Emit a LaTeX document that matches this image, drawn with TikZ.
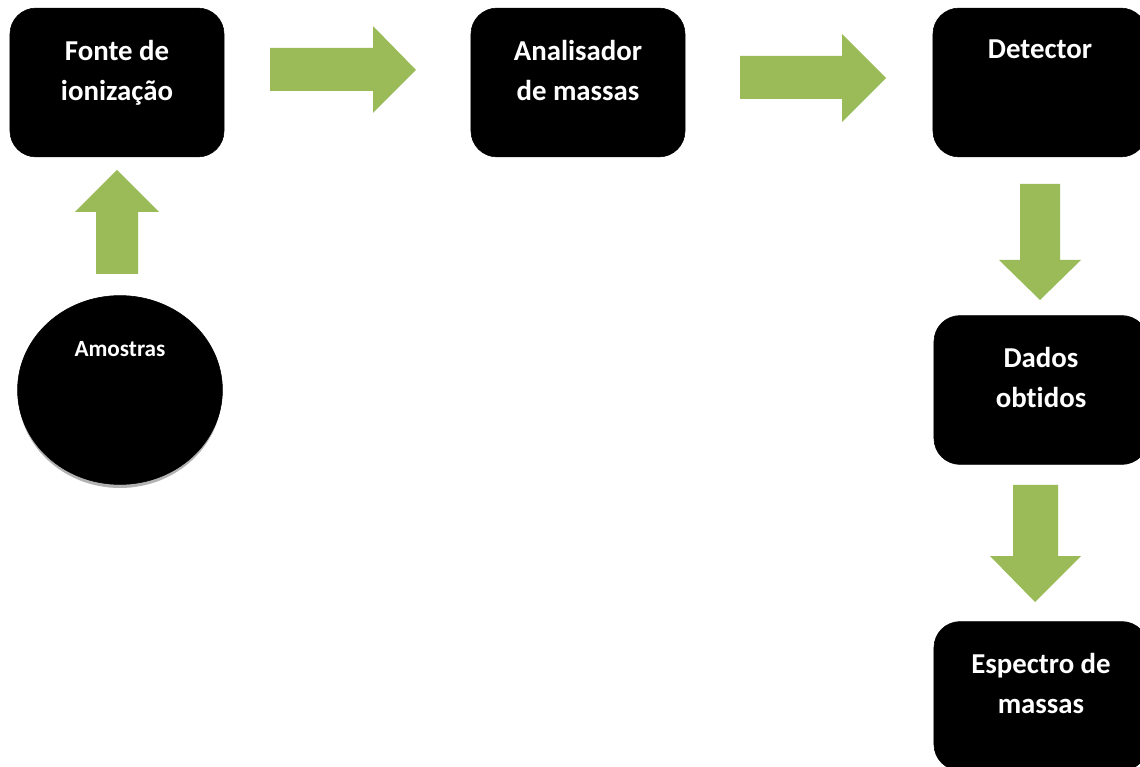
\documentclass[tikz,border=0pt]{standalone}
\usepackage{fontspec}
\setmainfont[Ligatures=NoCommon]{Carlito}
\usetikzlibrary{positioning, shapes.geometric}
\definecolor{arrowgreen}{HTML}{9BBB59}
\tikzset{
  stage/.style={draw=black, fill=black, rounded corners=0.65cm, minimum width=5.35cm, minimum height=3.72cm, inner sep=0},
  stagetext/.style={text=white, font=\fontsize{20.5}{28.5}\selectfont\bfseries, align=center, inner sep=0},
  flowarrow/.style={fill=arrowgreen}
}
\begin{document}
\begin{tikzpicture}[x=0.025cm, y=-0.025cm]
	\useasboundingbox (0,0) rectangle (1140,767);
	\begin{scope}
		\clip (0,0) rectangle (1140,767);
		% boxes
		\node[stage] (fonte) at (117,82.5) {};
		\node[stage] (analisador) at (578,82.5) {};
		\node[stage] (detector) at (1040,82.5) {};
		\node[stage] (dados) at (1041,390) {};
		\node[stage] (espectro) at (1041,696) {};
	\end{scope}
	\node[stagetext, below=0.8cm of fonte.north] {Fonte de\\ionização};
	\node[stagetext, below=0.8cm of analisador.north] {Analisador\\de massas};
	\node[stagetext, below=0.8cm of detector.north] {Detector};
	\node[stagetext, below=0.8cm of dados.north] {Dados\\obtidos};
	\node[stagetext, below=0.8cm of espectro.north] {Espectro de\\massas};
	% sample
	\fill[gray!60] (120,393) ellipse (102 and 95);
	\node[draw=black, fill=black, ellipse, minimum width=5.12cm, minimum height=4.72cm, inner sep=0] (amostras) at (120,390) {};
	\node[stagetext, font=\fontsize{16.5}{20}\selectfont\bfseries, below=1.15cm of amostras.north] {Amostras};
	% arrows
	\fill[flowarrow] (96,274) -- (96,212) -- (75,212) -- (117,170) -- (159,212) -- (138,212) -- (138,274) -- cycle;
	\fill[flowarrow] (270,48) -- (373,48) -- (373,26) -- (416,70) -- (373,113) -- (373,91) -- (270,91) -- cycle;
	\fill[flowarrow] (740,56) -- (842,56) -- (842,34) -- (886,78) -- (842,122) -- (842,99) -- (740,99) -- cycle;
	\fill[flowarrow] (1020,184) -- (1060,184) -- (1060,260) -- (1081,260) -- (1040,300) -- (999,260) -- (1020,260) -- cycle;
	\fill[flowarrow] (1013,485) -- (1058,485) -- (1058,556) -- (1081,556) -- (1035,602) -- (990,556) -- (1013,556) -- cycle;
\end{tikzpicture}
\end{document}
